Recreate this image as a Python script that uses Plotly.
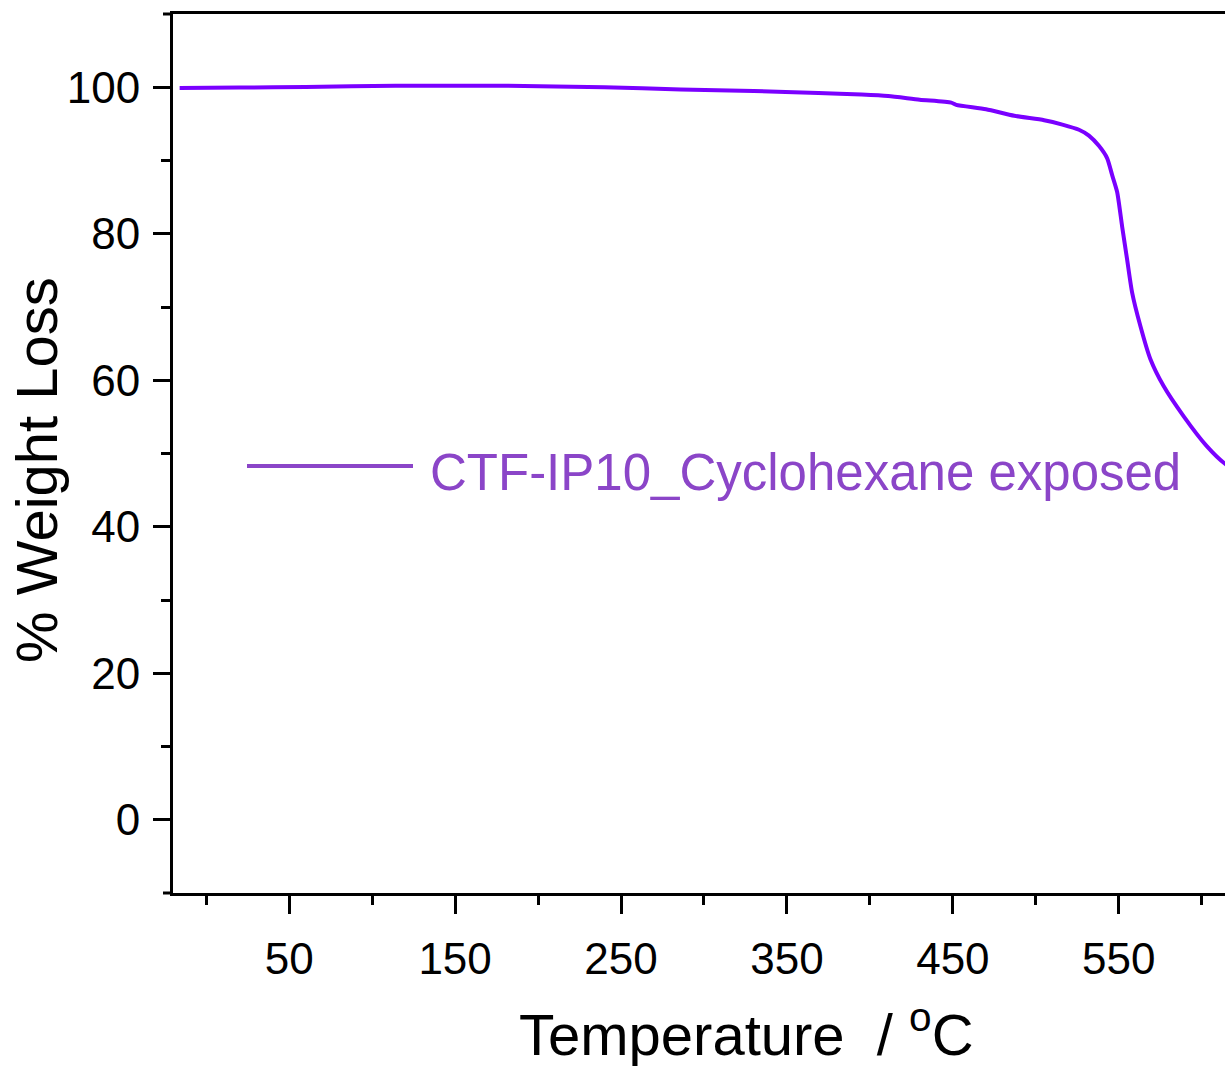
import plotly.graph_objects as go

# ---- data ----
temperature = [-16, 20, 60, 114, 182, 240, 286, 330, 369, 395, 411, 430, 449, 452,
               470, 487, 505, 516, 526, 532, 538, 543, 546, 549, 552, 555, 558,
               563, 569, 577, 589, 603, 614, 622]
weight = [99.9, 99.95, 100.05, 100.2, 100.2, 100.0, 99.7, 99.5, 99.2, 99.0, 98.8,
          98.3, 97.9, 97.6, 97.0, 96.1, 95.5, 94.9, 94.2, 93.4, 92.0, 90.3, 88.0,
          85.7, 81.0, 76.5, 72.0, 67.4, 62.9, 59.2, 55.1, 51.0, 48.6, 47.6]
series_name = "CTF-IP10_Cyclohexane exposed"

x_major = [50, 150, 250, 350, 450, 550]
x_minor = [0, 100, 200, 300, 400, 500, 600]
y_major = [0, 20, 40, 60, 80, 100]
y_minor = [10, 30, 50, 70, 90]

x_title = "Temperature  / <sup>o</sup>C"
y_title = "% Weight Loss"

FONT = "Liberation Sans, Arial, sans-serif"
LINE_COLOR = "#7a00ff"
LEGEND_COLOR = "#8b45c8"

W, H = 1225, 1066
PW, PH = 1052, 879

fig = go.Figure()
fig.add_trace(go.Scatter(
    x=temperature, y=weight, mode="lines", name=series_name,
    line=dict(color=LINE_COLOR, width=4, shape="spline", smoothing=0.6),
    showlegend=False,
))

fig.update_layout(
    width=W, height=H,
    margin=dict(l=173, r=0, t=14, b=173),
    paper_bgcolor="white", plot_bgcolor="white",
    font=dict(family=FONT, color="black"),
)

fig.update_xaxes(
    range=[-20, 614], showgrid=False, zeroline=False,
    showline=True, linecolor="black", linewidth=3, mirror=True,
    ticks="outside", ticklen=18, tickwidth=3, tickcolor="black",
    tickvals=x_major, ticktext=[str(v) for v in x_major],
    tickfont=dict(size=44, family=FONT, color="black"),
    ticklabelstandoff=7,
    minor=dict(tickvals=x_minor, ticks="outside", ticklen=9, tickwidth=3, tickcolor="black"),
)
fig.update_yaxes(
    range=[-10, 110], showgrid=False, zeroline=False,
    showline=True, linecolor="black", linewidth=3, mirror=False,
    ticks="outside", ticklen=17, tickwidth=3, tickcolor="black",
    tickvals=y_major, ticktext=[str(v) for v in y_major],
    tickfont=dict(size=44, family=FONT, color="black"),
    ticklabelstandoff=4,
    minor=dict(tickvals=y_minor, ticks="outside", ticklen=9, tickwidth=3, tickcolor="black"),
)

# axis line overhang at the left of the frame
for yp in (0, 1):
    fig.add_shape(type="line", xref="paper", yref="paper",
                  x0=-10 / PW, x1=0, y0=yp, y1=yp,
                  line=dict(color="black", width=3))

# axis titles
fig.add_annotation(text=x_title, xref="paper", yref="paper",
                   x=(746 - 173) / PW, y=(893 - 1030) / PH,
                   showarrow=False, xanchor="center", yanchor="middle",
                   font=dict(size=58, family=FONT, color="black"))
fig.add_annotation(text=y_title, xref="paper", yref="paper",
                   x=(37 - 173) / PW, y=(893 - 470) / PH, textangle=-90,
                   showarrow=False, xanchor="center", yanchor="middle",
                   font=dict(size=58, family=FONT, color="black"))

# legend drawn inside plot
fig.add_shape(type="line", xref="paper", yref="paper",
              x0=(247 - 173) / PW, x1=(413 - 173) / PW,
              y0=(893 - 466) / PH, y1=(893 - 466) / PH,
              line=dict(color=LEGEND_COLOR, width=4))
fig.add_annotation(text=series_name, xref="paper", yref="paper",
                   x=(428 - 173) / PW, y=(893 - 472) / PH,
                   showarrow=False, xanchor="left", yanchor="middle",
                   font=dict(size=51, family=FONT, color=LEGEND_COLOR))

fig.write_html(
    "out.html",
    config={"displayModeBar": False},
    post_script="document.body.style.margin='0';document.body.style.overflow='hidden';",
)
